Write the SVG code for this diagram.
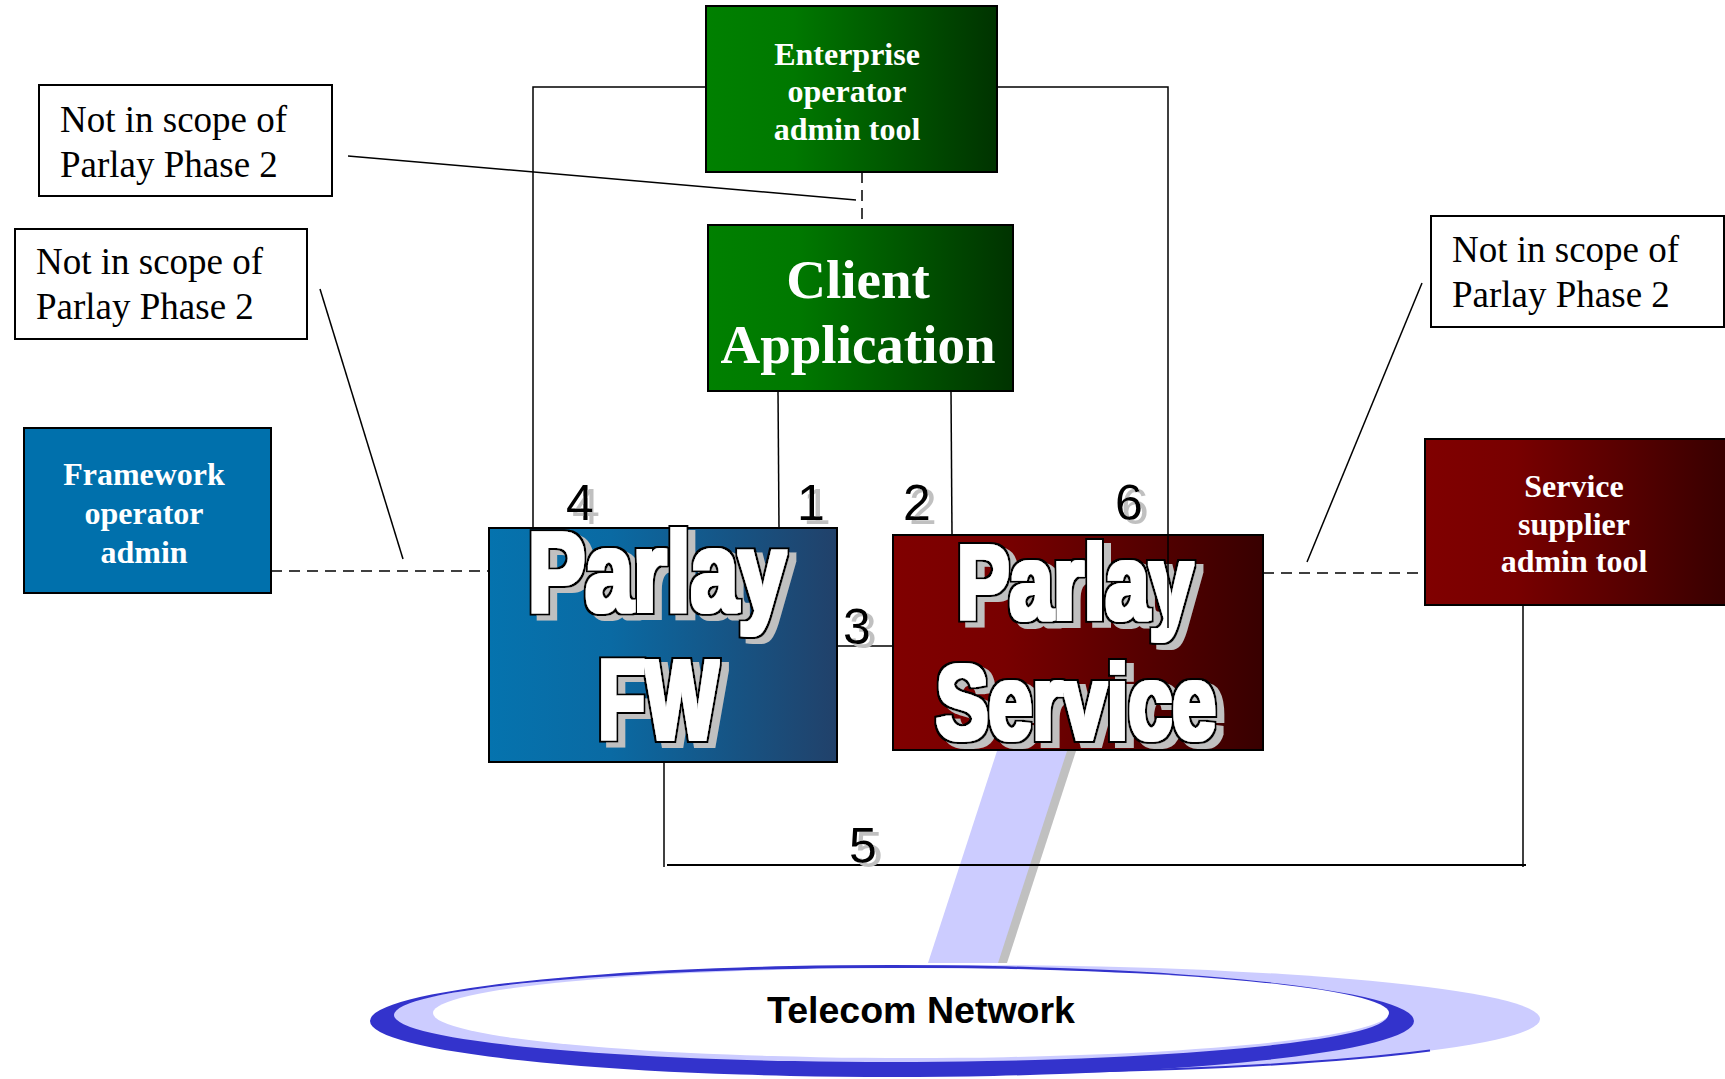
<svg xmlns="http://www.w3.org/2000/svg" width="1725" height="1079" viewBox="0 0 1725 1079">
<defs>
<linearGradient id="gFW" x1="0" y1="0" x2="1" y2="0"><stop offset="0" stop-color="#0573ae"/><stop offset="0.35" stop-color="#0a6aa3"/><stop offset="1" stop-color="#21416a"/></linearGradient>
<linearGradient id="gGreen" x1="0" y1="0" x2="1" y2="0"><stop offset="0" stop-color="#008000"/><stop offset="0.3" stop-color="#007800"/><stop offset="1" stop-color="#003300"/></linearGradient>
<linearGradient id="gRed" x1="0" y1="0" x2="1" y2="0"><stop offset="0" stop-color="#800000"/><stop offset="0.3" stop-color="#780000"/><stop offset="1" stop-color="#380000"/></linearGradient>
<filter id="fxBig" x="-8%" y="-15%" width="120%" height="135%">
<feMorphology in="SourceAlpha" operator="dilate" radius="3.5" result="outer"/>
<feFlood flood-color="#c0c0c0"/>
<feComposite in2="outer" operator="in"/>
<feOffset dx="7" dy="5" result="shadow"/>
<feFlood flood-color="#000000"/>
<feComposite in2="outer" operator="in" result="outline"/>
<feMorphology in="SourceGraphic" operator="dilate" radius="2" result="white"/>
<feMerge><feMergeNode in="shadow"/><feMergeNode in="outline"/><feMergeNode in="white"/></feMerge>
</filter>
<filter id="fxNum" x="-20%" y="-20%" width="160%" height="150%">
<feFlood flood-color="#c0c0c0"/>
<feComposite in2="SourceAlpha" operator="in"/>
<feOffset dx="6" dy="4" result="shadow"/>
<feMerge><feMergeNode in="shadow"/><feMergeNode in="SourceGraphic"/></feMerge>
</filter>
<style>
.box{stroke:#000;stroke-width:2}
.note{fill:#fff;stroke:#000;stroke-width:2}
.nt{font-family:"Liberation Serif","Times New Roman",serif;font-size:37px;fill:#000}
.wt{font-family:"Liberation Serif","Times New Roman",serif;font-weight:bold;fill:#fff;text-anchor:middle}
.big{font-family:"Liberation Sans",Arial,sans-serif;font-weight:bold;fill:#fff;filter:url(#fxBig)}
.num{font-family:"Liberation Sans",Arial,sans-serif;font-size:50px;fill:#000;filter:url(#fxNum)}
.ln{stroke:#000;stroke-width:1.5;fill:none}
.dash{stroke:#000;stroke-width:1.5;stroke-dasharray:11 7;fill:none}
</style>
</defs>
<rect x="0" y="0" width="1725" height="1079" fill="#fff"/>

<g id="beam">
<polygon points="1005,751 1076,751 1007,963 936,963" fill="#c0c0c0"/>
<polygon points="997,751 1067,751 998,963 928,963" fill="#ccccff"/>
</g>

<g id="telecom-network">
<ellipse cx="960" cy="1019" rx="580" ry="54" fill="#ccccff"/>
<path d="M400,1033 A580,54 0 0,0 1430,1050.6" fill="none" stroke="#3333cc" stroke-width="2"/>
<path fill="#3333cc" fill-rule="evenodd" d="M370,1021 A522,56 0 1,0 1414,1021 A522,56 0 1,0 370,1021 Z M394,1015 A497,47 0 1,1 1388,1015 A497,47 0 1,1 394,1015 Z"/>
<ellipse cx="911" cy="1013" rx="478" ry="45" fill="#fff"/>
<text x="767" y="1023" font-family="Liberation Sans, Arial, sans-serif" font-weight="bold" font-size="36" fill="#000" textLength="308" lengthAdjust="spacingAndGlyphs">Telecom Network</text>
</g>

<g id="note-enterprise">
<rect class="note" x="39" y="85" width="293" height="111"/>
<text class="nt" x="60" y="132">Not in scope of</text>
<text class="nt" x="60" y="177">Parlay Phase 2</text>
</g>
<g id="note-framework">
<rect class="note" x="15" y="229" width="292" height="110"/>
<text class="nt" x="36" y="274">Not in scope of</text>
<text class="nt" x="36" y="319">Parlay Phase 2</text>
</g>
<g id="note-service">
<rect class="note" x="1431" y="216" width="293" height="111"/>
<text class="nt" x="1452" y="262">Not in scope of</text>
<text class="nt" x="1452" y="307">Parlay Phase 2</text>
</g>

<g id="enterprise-admin">
<rect class="box" x="706" y="6" width="291" height="166" fill="url(#gGreen)"/>
<text class="wt" font-size="32" x="847" y="65">Enterprise</text>
<text class="wt" font-size="32" x="847" y="102">operator</text>
<text class="wt" font-size="32" x="847" y="140">admin tool</text>
</g>

<g id="client-application">
<rect class="box" x="708" y="225" width="305" height="166" fill="url(#gGreen)"/>
<text class="wt" font-size="55" x="858" y="298">Client</text>
<text class="wt" font-size="55" x="858" y="363">Application</text>
</g>

<g id="framework-admin">
<rect class="box" x="24" y="428" width="247" height="165" fill="#0070ac"/>
<text class="wt" font-size="32" x="144" y="485">Framework</text>
<text class="wt" font-size="32" x="144" y="524">operator</text>
<text class="wt" font-size="32" x="144" y="563">admin</text>
</g>

<g id="parlay-fw">
<rect class="box" x="489" y="528" width="348" height="234" fill="url(#gFW)"/>
<text class="big" font-size="113" x="528" y="611" textLength="258" lengthAdjust="spacingAndGlyphs">Parlay</text>
<text class="big" font-size="114" x="598" y="739" textLength="120" lengthAdjust="spacingAndGlyphs">FW</text>
</g>

<g id="parlay-service">
<rect class="box" x="893" y="535" width="370" height="215" fill="url(#gRed)"/>
<text class="big" font-size="106" x="957" y="619" textLength="236" lengthAdjust="spacingAndGlyphs">Parlay</text>
<text class="big" font-size="106" x="936" y="739" textLength="280" lengthAdjust="spacingAndGlyphs">Service</text>
</g>

<g id="service-supplier-admin">
<rect class="box" x="1425" y="439" width="302" height="166" fill="url(#gRed)"/>
<text class="wt" font-size="32" x="1574" y="497">Service</text>
<text class="wt" font-size="32" x="1574" y="535">supplier</text>
<text class="wt" font-size="32" x="1574" y="572">admin tool</text>
</g>

<g id="connectors">
<polyline class="ln" points="706,87 533,87 533,528"/>
<polyline class="ln" points="997,87 1168,87 1168,628"/>
<line class="ln" x1="778" y1="391" x2="779" y2="528"/>
<line class="ln" x1="951" y1="391" x2="952" y2="535"/>
<line class="ln" x1="837" y1="646" x2="893" y2="646"/>
<line class="ln" x1="664" y1="762" x2="664" y2="867"/>
<line class="ln" x1="1523" y1="605" x2="1523" y2="867"/>
<line x1="667" y1="865" x2="1526" y2="865" stroke="#000" stroke-width="2"/>
<line class="dash" x1="862" y1="172" x2="862" y2="225"/>
<line class="dash" x1="271" y1="571" x2="489" y2="571"/>
<line class="dash" x1="1263" y1="573" x2="1425" y2="573"/>
<line class="ln" x1="348" y1="156" x2="856" y2="200"/>
<line class="ln" x1="320" y1="289" x2="403" y2="559"/>
<line class="ln" x1="1422" y1="283" x2="1307" y2="562"/>
<text class="num" x="566" y="520">4</text>
<text class="num" x="797" y="520">1</text>
<text class="num" x="903" y="520">2</text>
<text class="num" x="1115" y="520">6</text>
<text class="num" x="843" y="644">3</text>
<text class="num" x="849" y="863">5</text>
</g>
</svg>
